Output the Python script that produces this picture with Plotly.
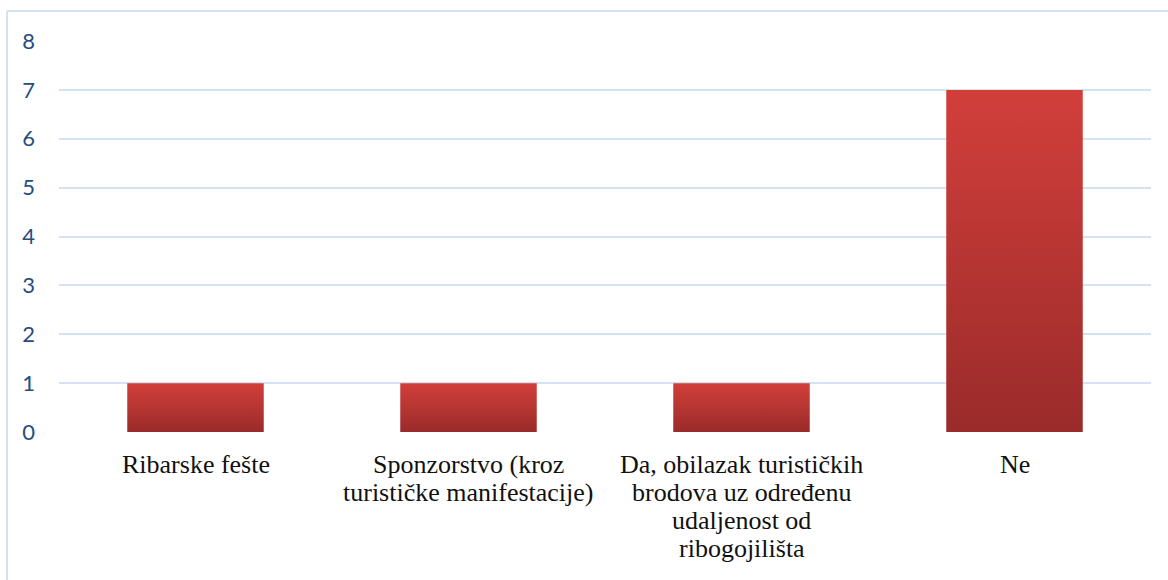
import plotly.graph_objects as go

categories = [
    "Ribarske fešte",
    "Sponzorstvo (kroz<br>turističke manifestacije)",
    "Da, obilazak turističkih<br>brodova uz određenu<br>udaljenost od<br>ribogojilišta",
    "Ne",
]
values = [1, 1, 1, 7]
y_ticks = [0, 1, 2, 3, 4, 5, 6, 7, 8]

W, H = 1168, 580
L, R, T, B = 59, 17, 41, 148
pw, ph = W - L - R, H - T - B

fig = go.Figure()
half = 0.25
for i, v in enumerate(values):
    x0, x1 = i - half, i + half
    fig.add_trace(go.Scatter(
        x=[x0, x1, x1, x0, x0], y=[0, 0, v, v, 0],
        mode="lines", fill="toself", line=dict(width=0),
        fillgradient=dict(type="vertical",
                          colorscale=[[0, "#9a2b2a"], [1, "#d23f3b"]]),
        hoverinfo="skip", showlegend=False,
    ))

# category labels, one annotation per line (tighter line spacing than ticks)
for i, cat in enumerate(categories):
    for k, line in enumerate(cat.split("<br>")):
        fig.add_annotation(
            x=i, y=0, xref="x", yref="y", text=line, showarrow=False,
            xanchor="center", yanchor="middle", yshift=-(32 + 28 * k),
            font=dict(family="Liberation Serif", size=26, color="#111111"),
        )

def px_x(p):
    return (p - L) / pw

def px_y(p):
    return (H - B - p) / ph

border = "#d5e0f1"
fig.add_shape(type="line", xref="paper", yref="paper",
              x0=px_x(7), x1=px_x(7), y0=px_y(11), y1=px_y(600),
              line=dict(color=border, width=2))
fig.add_shape(type="line", xref="paper", yref="paper",
              x0=px_x(7), x1=px_x(1200), y0=px_y(11), y1=px_y(11),
              line=dict(color=border, width=2))

fig.update_layout(
    width=W, height=H,
    margin=dict(l=L, r=R, t=T, b=B, autoexpand=False),
    paper_bgcolor="white", plot_bgcolor="white",
    xaxis=dict(
        range=[-0.5, len(categories) - 0.5],
        tickvals=list(range(len(categories))),
        showticklabels=False, automargin=False,
        showgrid=False, zeroline=False, showline=False, ticks="",
        fixedrange=True,
    ),
    yaxis=dict(
        range=[0, 8], tickvals=y_ticks, automargin=False,
        showgrid=True, gridcolor="#d6e2f2", gridwidth=2,
        zeroline=False, showline=False, ticks="",
        tickfont=dict(family="Lato", size=22, color="#254d80"),
        ticklabelstandoff=23, fixedrange=True,
    ),
)

fig.write_html("out.html", config={"displayModeBar": False},
               post_script="document.body.style.margin='0';")
